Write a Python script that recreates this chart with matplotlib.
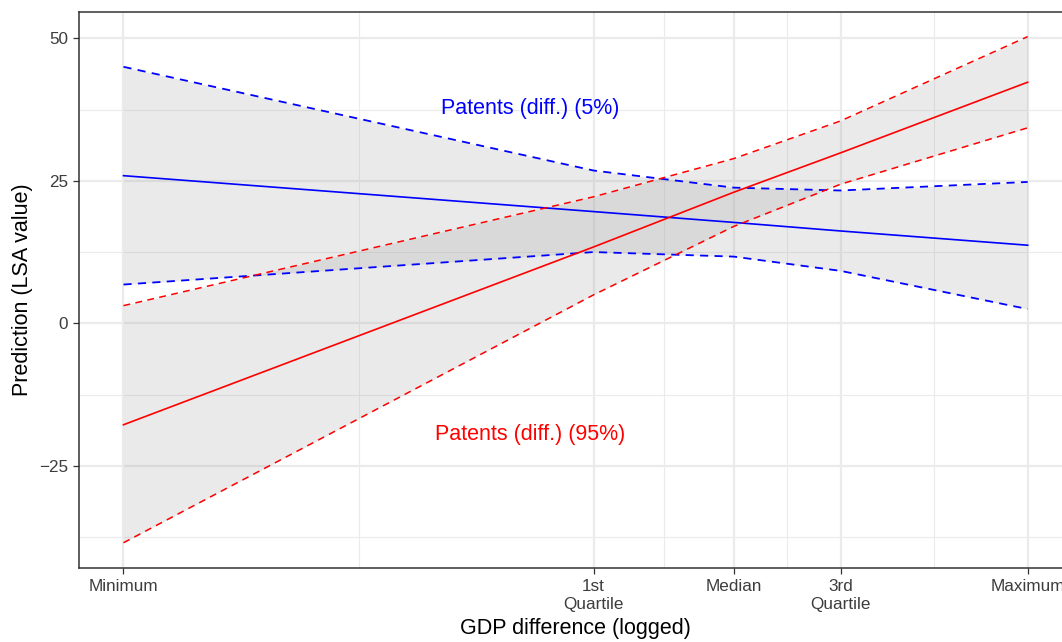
import matplotlib
matplotlib.use("Agg")
import matplotlib.pyplot as plt

plt.rcParams['font.family'] = ['Liberation Sans', 'DejaVu Sans']

# x positions of the summary points of logged GDP difference
gdp_points = [0.0, 5.2, 6.75, 7.93, 10.0]
gdp_labels = ['Minimum', '1st\nQuartile', 'Median', '3rd\nQuartile', 'Maximum']

# patents (diff.) at 5th percentile
low_fit = [25.9, 19.6, 17.7, 16.2, 13.7]
low_upper = [45.0, 26.8, 23.8, 23.3, 24.8]
low_lower = [6.8, 12.5, 11.7, 9.2, 2.5]

# patents (diff.) at 95th percentile
high_fit = [-17.8, 13.4, 23.0, 29.9, 42.3]
high_upper = [3.1, 22.2, 28.9, 35.5, 50.3]
high_lower = [-38.5, 5.0, 17.0, 24.4, 34.3]

W, H = 1062, 642
fig = plt.figure(figsize=(W / 100, H / 100), dpi=100)
ax = fig.add_axes([79 / W, 1 - 567.7 / H, (1072 - 79) / W, (567.7 - 11.7) / H])

ax.set_xlim(-0.492, 10.49)
ax.set_ylim(-42.88, 54.67)

# grid like theme_bw
ax.set_xticks(gdp_points)
ax.set_xticks([2.6, 5.975, 7.34, 8.965], minor=True)
ax.set_yticks([-25, 0, 25, 50])
ax.set_yticks([-37.5, -12.5, 12.5, 37.5], minor=True)
ax.grid(which='major', color='#ebebeb', linewidth=1.6, zorder=0)
ax.grid(which='minor', color='#ebebeb', linewidth=0.8, zorder=0)
ax.set_axisbelow(True)

ax.fill_between(gdp_points, low_lower, low_upper, color='#999999', alpha=0.2,
                linewidth=0, zorder=1)
ax.fill_between(gdp_points, high_lower, high_upper, color='#999999', alpha=0.2,
                linewidth=0, zorder=1)

dash = (0, (4.5, 3.5))
ax.plot(gdp_points, low_fit, color='blue', linewidth=1.2, zorder=3)
ax.plot(gdp_points, low_upper, color='blue', linewidth=1.3, linestyle=dash, zorder=3)
ax.plot(gdp_points, low_lower, color='blue', linewidth=1.3, linestyle=dash, zorder=3)
ax.plot(gdp_points, high_fit, color='red', linewidth=1.2, zorder=3)
ax.plot(gdp_points, high_upper, color='red', linewidth=1.1, linestyle=dash, zorder=3)
ax.plot(gdp_points, high_lower, color='red', linewidth=1.1, linestyle=dash, zorder=3)

ax.text(4.5, 37.6, 'Patents (diff.) (5%)', color='blue', fontsize=15.5,
        ha='center', va='center', zorder=4)
ax.text(4.5, -19.5, 'Patents (diff.) (95%)', color='red', fontsize=15.5,
        ha='center', va='center', zorder=4)

ax.set_xticklabels(gdp_labels, linespacing=1.3)
ax.tick_params(axis='both', which='major', length=4.5, width=0.9, color='#333333',
               labelcolor='#3d3d3d', labelsize=12.3, pad=3.5)
ax.tick_params(which='minor', length=0)
for s in ax.spines.values():
    s.set_color('#333333')
    s.set_linewidth(1.1)

ax.set_xlabel('GDP difference (logged)', fontsize=15.5, labelpad=4)
ax.set_ylabel('Prediction (LSA value)', fontsize=15.5, labelpad=4)

fig.savefig('out.png', dpi=100)
